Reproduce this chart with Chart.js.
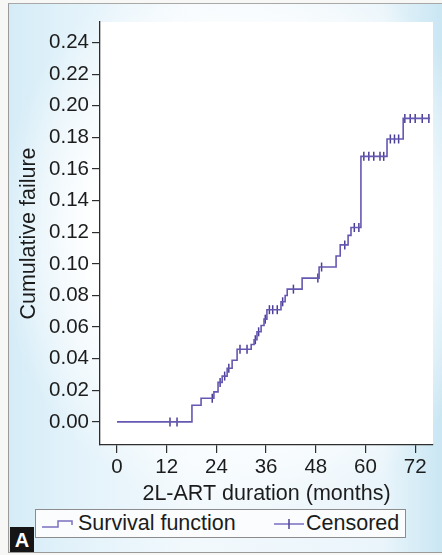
<!DOCTYPE html>
<html>
<head>
<meta charset="utf-8">
<script src="https://cdn.jsdelivr.net/npm/chart.js@4.4.1/dist/chart.umd.min.js"></script>
<style>
  html, body { margin: 0; padding: 0; width: 442px; height: 555px; overflow: hidden; background: #f7f7f5; }
  .frame {
    position: absolute; left: 8px; top: 3px; width: 434px; height: 548px;
    border-left: 1px solid #9a9a9a; border-top: 1px solid #a8a8a8; border-bottom: 1px solid #9a9a9a;
    background:
      radial-gradient(ellipse 58% 52% at 55% 42%, #ffffff 62%, rgba(255,255,255,0) 100%),
      linear-gradient(90deg, #d5ecf7 0%, #e2f2fa 14%, #f2f9fd 42%, #eaf5fb 86%, #c9e6f3 100%);
  }
  #chart-wrap { position: absolute; left: 0; top: 0; width: 442px; height: 555px; }
  .legend {
    position: absolute; left: 35px; top: 509px; width: 369px; height: 27px;
    border: 1px solid #8c8c8c; background: #fafcfd;
    font: 21.5px "Liberation Sans", Arial, sans-serif; color: #1c1c1c;
  }
  .legend span { position: absolute; top: 1px; white-space: nowrap; }
  .legend svg { position: absolute; top: 6px; }
  .tag {
    position: absolute; left: 10px; top: 527px; width: 24px; height: 25px;
    background: #151515; color: #fff; font: bold 20px "Liberation Sans", Arial, sans-serif;
    text-align: center; line-height: 26px;
  }
</style>
</head>
<body>
<div class="frame"></div>
<div id="chart-wrap"><canvas id="km-chart" width="442" height="555"></canvas></div>
<div class="legend">
  <svg width="36" height="16" style="left:4px">
    <polyline points="2,11 18,11 18,5 32,5 32,9" fill="none" stroke="#7a6fc0" stroke-width="1.5"/>
  </svg>
  <span style="left:42px">Survival function</span>
  <svg width="34" height="16" style="left:236px">
    <line x1="2" y1="8" x2="32" y2="8" stroke="#7a6fc0" stroke-width="1.5"/>
    <line x1="17" y1="3" x2="17" y2="13" stroke="#4f4398" stroke-width="1.5"/>
  </svg>
  <span style="left:270px">Censored</span>
</div>
<div class="tag">A</div>

<script>
// step curve: time of each event (months) and cumulative failure after it
const eventTimes = [0, 18.1, 20.3, 23.4, 24.4, 25.4, 26.6, 27.8, 29.0, 32.4, 33.1, 33.8, 34.8, 35.5, 36.2,
  39.6, 40.6, 41.1, 44.7, 48.8, 52.9, 53.9, 55.8, 56.5, 58.9, 65.2, 69.1, 75.6];
const cumFailure = [0, 0.0105, 0.015, 0.019, 0.025, 0.029, 0.034, 0.039, 0.046, 0.049, 0.052, 0.057, 0.061, 0.065, 0.071,
  0.076, 0.080, 0.084, 0.091, 0.098, 0.105, 0.112, 0.118, 0.123, 0.168, 0.179, 0.192, 0.192];

// censored observations
const censorTimes = [12.8, 14.5, 23.0, 24.9, 26.0, 27.0, 29.7, 31.4, 33.4, 34.2, 35.8, 36.8, 37.6, 38.7,
  40.0, 42.6, 48.5, 49.4, 55.0, 57.3, 58.4, 59.6, 60.8, 62.0, 63.5, 64.4, 66.0, 67.0, 68.0,
  69.5, 70.8, 72.0, 73.7, 75.3];
const censorLevels = [0, 0, 0.015, 0.025, 0.029, 0.034, 0.046, 0.046, 0.052, 0.057, 0.065, 0.071, 0.071, 0.071,
  0.076, 0.084, 0.091, 0.098, 0.112, 0.123, 0.123, 0.168, 0.168, 0.168, 0.168, 0.168, 0.179, 0.179, 0.179,
  0.192, 0.192, 0.192, 0.192, 0.192];

const xTicks = [0, 12, 24, 36, 48, 60, 72];
const yTicks = [0, 0.02, 0.04, 0.06, 0.08, 0.10, 0.12, 0.14, 0.16, 0.18, 0.20, 0.22, 0.24];

const axisColor = '#2e2e2e';
const textColor = '#1c1c1c';
const tickFont = { size: 20.5 };
const titleFont = { size: 21.5 };

Chart.defaults.font.family = '"Liberation Sans", Arial, sans-serif';
Chart.defaults.color = textColor;

const whiteArea = {
  id: 'whiteArea',
  beforeDraw(chart) {
    const { ctx, chartArea: a } = chart;
    ctx.save();
    ctx.fillStyle = '#ffffff';
    ctx.fillRect(a.left, a.top, a.right - a.left, a.bottom - a.top);
    ctx.restore();
  }
};

new Chart(document.getElementById('km-chart'), {
  type: 'line',
  data: {
    datasets: [
      {
        label: 'Survival function',
        data: eventTimes.map((t, i) => ({ x: t, y: cumFailure[i] })),
        stepped: 'before',
        borderColor: '#6558b2',
        borderWidth: 1.6,
        pointRadius: 0,
        fill: false
      },
      {
        label: 'Censored',
        data: censorTimes.map((t, i) => ({ x: t, y: censorLevels[i] })),
        showLine: false,
        pointStyle: 'line',
        rotation: 90,
        pointRadius: 4.5,
        pointBorderWidth: 1.5,
        borderColor: '#4a3e95',
        backgroundColor: '#4a3e95'
      }
    ]
  },
  options: {
    responsive: false,
    animation: false,
    layout: { padding: { left: 8, top: 22, right: 9, bottom: 48 } },
    plugins: {
      legend: { display: false },
      tooltip: { enabled: false }
    },
    scales: {
      x: {
        type: 'linear',
        min: -4.1,
        max: 76.3,
        afterBuildTicks: (s) => { s.ticks = xTicks.map((v) => ({ value: v })); },
        afterFit: (s) => { s.height = 62; },
        grid: { drawOnChartArea: false, drawTicks: true, tickLength: 8, color: axisColor, lineWidth: 1.2 },
        border: { display: true, color: axisColor, width: 1.3 },
        ticks: { color: textColor, font: tickFont, padding: 2, maxRotation: 0 },
        title: { display: true, text: '2L-ART duration (months)', color: textColor, font: titleFont, padding: { top: 0, bottom: 0 } }
      },
      y: {
        type: 'linear',
        min: -0.0146,
        max: 0.253,
        afterBuildTicks: (s) => { s.ticks = yTicks.map((v) => ({ value: v })); },
        afterFit: (s) => { s.width = 92; },
        grid: { drawOnChartArea: false, drawTicks: true, tickLength: 8, color: axisColor, lineWidth: 1.2 },
        border: { display: true, color: axisColor, width: 1.3 },
        ticks: { color: textColor, font: tickFont, padding: 3, callback: (v) => Number(v).toFixed(2) },
        title: { display: true, text: 'Cumulative failure', color: textColor, font: titleFont, padding: { top: 8, bottom: 0 } }
      }
    }
  },
  plugins: [whiteArea]
});
</script>
</body>
</html>
